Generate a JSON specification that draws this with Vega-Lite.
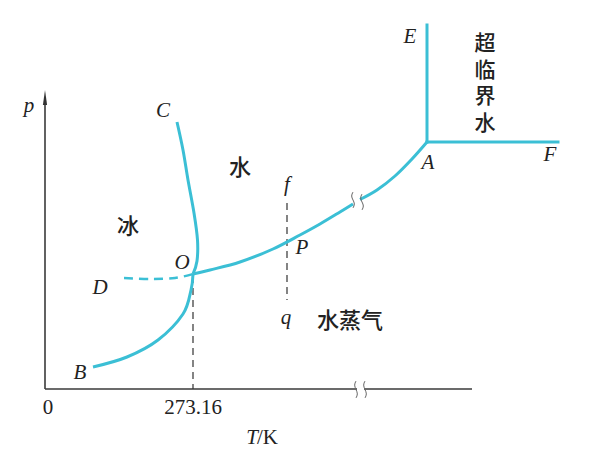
{
  "$schema": "https://vega.github.io/schema/vega-lite/v6.json",
  "width": 589,
  "height": 463,
  "padding": 0,
  "autosize": {"type": "none"},
  "background": "white",
  "config": {"view": {"stroke": null}},
  "datasets": {
    "curves": [
      {"id": "OC", "i": 0, "x": 177, "y": 122},
      {"id": "OC", "i": 1, "x": 183, "y": 150},
      {"id": "OC", "i": 2, "x": 188, "y": 180},
      {"id": "OC", "i": 3, "x": 194, "y": 213},
      {"id": "OC", "i": 4, "x": 197.5, "y": 240},
      {"id": "OC", "i": 5, "x": 197, "y": 261},
      {"id": "OC", "i": 6, "x": 193, "y": 274},
      {"id": "OB", "i": 0, "x": 193, "y": 274},
      {"id": "OB", "i": 1, "x": 191, "y": 290},
      {"id": "OB", "i": 2, "x": 183, "y": 314},
      {"id": "OB", "i": 3, "x": 158, "y": 340},
      {"id": "OB", "i": 4, "x": 127, "y": 357},
      {"id": "OB", "i": 5, "x": 93, "y": 367},
      {"id": "OA1", "i": 0, "x": 193, "y": 274},
      {"id": "OA1", "i": 1, "x": 210, "y": 270},
      {"id": "OA1", "i": 2, "x": 240, "y": 262},
      {"id": "OA1", "i": 3, "x": 273, "y": 249},
      {"id": "OA1", "i": 4, "x": 300, "y": 235},
      {"id": "OA1", "i": 5, "x": 320, "y": 224},
      {"id": "OA1", "i": 6, "x": 340, "y": 212},
      {"id": "OA1", "i": 7, "x": 353, "y": 204},
      {"id": "OA2", "i": 0, "x": 360, "y": 199.5},
      {"id": "OA2", "i": 1, "x": 377, "y": 190},
      {"id": "OA2", "i": 2, "x": 395, "y": 176},
      {"id": "OA2", "i": 3, "x": 412, "y": 159},
      {"id": "OA2", "i": 4, "x": 427, "y": 142}
    ],
    "dashcurve": [
      {"id": "OD", "i": 0, "x": 124, "y": 278},
      {"id": "OD", "i": 1, "x": 150, "y": 279},
      {"id": "OD", "i": 2, "x": 175, "y": 278},
      {"id": "OD", "i": 3, "x": 193, "y": 274}
    ],
    "squig": [
      {"id": "s1", "i": 0, "x": 353, "y": 192},
      {"id": "s1", "i": 1, "x": 351, "y": 196},
      {"id": "s1", "i": 2, "x": 353, "y": 200},
      {"id": "s1", "i": 3, "x": 355, "y": 204},
      {"id": "s1", "i": 4, "x": 353, "y": 208},
      {"id": "s2", "i": 0, "x": 362, "y": 194},
      {"id": "s2", "i": 1, "x": 360, "y": 198},
      {"id": "s2", "i": 2, "x": 362, "y": 202},
      {"id": "s2", "i": 3, "x": 364, "y": 206},
      {"id": "s2", "i": 4, "x": 362, "y": 210},
      {"id": "s3", "i": 0, "x": 356, "y": 381},
      {"id": "s3", "i": 1, "x": 354, "y": 385},
      {"id": "s3", "i": 2, "x": 356, "y": 389.5},
      {"id": "s3", "i": 3, "x": 358, "y": 394},
      {"id": "s3", "i": 4, "x": 356, "y": 398},
      {"id": "s4", "i": 0, "x": 365, "y": 381},
      {"id": "s4", "i": 1, "x": 363, "y": 385},
      {"id": "s4", "i": 2, "x": 365, "y": 389.5},
      {"id": "s4", "i": 3, "x": 367, "y": 394},
      {"id": "s4", "i": 4, "x": 365, "y": 398}
    ],
    "segs": [
      {"kind": "axis", "x": 45, "y": 389, "x2": 472, "y2": 389},
      {"kind": "axis", "x": 45, "y": 389, "x2": 45, "y2": 100},
      {"kind": "gap", "x": 357, "y": 389, "x2": 364, "y2": 389},
      {"kind": "cyan", "x": 427, "y": 25, "x2": 427, "y2": 142},
      {"kind": "cyan", "x": 427, "y": 142, "x2": 558, "y2": 142},
      {"kind": "dash", "x": 193, "y": 276, "x2": 193, "y2": 389},
      {"kind": "dash", "x": 287, "y": 203, "x2": 287, "y2": 300}
    ],
    "arrow": [{"x": 45, "y": 97.5}],
    "labels": [
      {"kind": "it", "t": "p", "x": 29, "y": 106},
      {"kind": "it", "t": "C", "x": 163, "y": 111},
      {"kind": "it", "t": "O", "x": 182, "y": 263},
      {"kind": "it", "t": "D", "x": 100, "y": 288},
      {"kind": "it", "t": "B", "x": 80, "y": 373},
      {"kind": "it", "t": "P", "x": 302, "y": 248},
      {"kind": "it", "t": "E", "x": 410, "y": 37},
      {"kind": "it", "t": "A", "x": 428, "y": 163},
      {"kind": "it", "t": "F", "x": 550, "y": 155},
      {"kind": "it", "t": "f", "x": 287, "y": 185},
      {"kind": "it", "t": "q", "x": 286, "y": 318},
      {"kind": "it", "t": "T", "x": 252, "y": 438},
      {"kind": "rm", "t": "0", "x": 48, "y": 408},
      {"kind": "rm", "t": "273.16", "x": 193, "y": 408},
      {"kind": "rmL", "t": "/K", "x": 257, "y": 438},
      {"kind": "cjk", "t": "冰", "x": 128, "y": 227},
      {"kind": "cjk", "t": "水", "x": 240, "y": 168},
      {"kind": "cjk", "t": "水蒸气", "x": 350, "y": 321},
      {"kind": "cjkV", "t": "超\n临\n界\n水", "x": 485, "y": 44}
    ]
  },
  "layer": [
    {
      "data": {"name": "segs"},
      "transform": [{"filter": "datum.kind == 'axis'"}],
      "mark": {"type": "rule", "color": "#3a3a3a", "strokeWidth": 1.6},
      "encoding": {
        "x": {"field": "x", "type": "quantitative", "scale": {"domain": [0, 589], "nice": false, "zero": false}, "axis": null},
        "y": {"field": "y", "type": "quantitative", "scale": {"domain": [0, 463], "reverse": true, "nice": false, "zero": false}, "axis": null},
        "x2": {"field": "x2"},
        "y2": {"field": "y2"}
      }
    },
    {
      "data": {"name": "segs"},
      "transform": [{"filter": "datum.kind == 'gap'"}],
      "mark": {"type": "rule", "color": "white", "strokeWidth": 3},
      "encoding": {
        "x": {"field": "x", "type": "quantitative", "axis": null},
        "y": {"field": "y", "type": "quantitative", "axis": null},
        "x2": {"field": "x2"},
        "y2": {"field": "y2"}
      }
    },
    {
      "data": {"name": "segs"},
      "transform": [{"filter": "datum.kind == 'dash'"}],
      "mark": {"type": "rule", "color": "#333333", "strokeWidth": 1.2, "strokeDash": [7, 5]},
      "encoding": {
        "x": {"field": "x", "type": "quantitative", "axis": null},
        "y": {"field": "y", "type": "quantitative", "axis": null},
        "x2": {"field": "x2"},
        "y2": {"field": "y2"}
      }
    },
    {
      "data": {"name": "segs"},
      "transform": [{"filter": "datum.kind == 'cyan'"}],
      "mark": {"type": "rule", "color": "#3bbfd5", "strokeWidth": 3, "strokeCap": "square"},
      "encoding": {
        "x": {"field": "x", "type": "quantitative", "axis": null},
        "y": {"field": "y", "type": "quantitative", "axis": null},
        "x2": {"field": "x2"},
        "y2": {"field": "y2"}
      }
    },
    {
      "data": {"name": "curves"},
      "mark": {"type": "line", "color": "#3bbfd5", "strokeWidth": 3, "interpolate": "cardinal"},
      "encoding": {
        "x": {"field": "x", "type": "quantitative", "axis": null},
        "y": {"field": "y", "type": "quantitative", "axis": null},
        "detail": {"field": "id"},
        "order": {"field": "i", "type": "quantitative"}
      }
    },
    {
      "data": {"name": "dashcurve"},
      "mark": {"type": "line", "color": "#3bbfd5", "strokeWidth": 2.5, "interpolate": "cardinal", "strokeDash": [9, 6]},
      "encoding": {
        "x": {"field": "x", "type": "quantitative", "axis": null},
        "y": {"field": "y", "type": "quantitative", "axis": null},
        "detail": {"field": "id"},
        "order": {"field": "i", "type": "quantitative"}
      }
    },
    {
      "data": {"name": "squig"},
      "mark": {"type": "line", "color": "#666666", "strokeWidth": 1, "interpolate": "basis"},
      "encoding": {
        "x": {"field": "x", "type": "quantitative", "axis": null},
        "y": {"field": "y", "type": "quantitative", "axis": null},
        "detail": {"field": "id"},
        "order": {"field": "i", "type": "quantitative"}
      }
    },
    {
      "data": {"name": "arrow"},
      "mark": {"type": "point", "shape": "M0,-1L0.28,1L-0.28,1Z", "size": 225, "filled": true, "color": "#333333", "opacity": 1},
      "encoding": {
        "x": {"field": "x", "type": "quantitative", "axis": null},
        "y": {"field": "y", "type": "quantitative", "axis": null}
      }
    },
    {
      "data": {"name": "labels"},
      "transform": [{"filter": "datum.kind == 'it'"}],
      "mark": {"type": "text", "font": "Liberation Serif", "fontStyle": "italic", "fontSize": 21, "color": "#222222", "align": "center", "baseline": "middle"},
      "encoding": {
        "x": {"field": "x", "type": "quantitative", "axis": null},
        "y": {"field": "y", "type": "quantitative", "axis": null},
        "text": {"field": "t"}
      }
    },
    {
      "data": {"name": "labels"},
      "transform": [{"filter": "datum.kind == 'rm'"}],
      "mark": {"type": "text", "font": "Liberation Serif", "fontSize": 21, "color": "#222222", "align": "center", "baseline": "middle"},
      "encoding": {
        "x": {"field": "x", "type": "quantitative", "axis": null},
        "y": {"field": "y", "type": "quantitative", "axis": null},
        "text": {"field": "t"}
      }
    },
    {
      "data": {"name": "labels"},
      "transform": [{"filter": "datum.kind == 'rmL'"}],
      "mark": {"type": "text", "font": "Liberation Serif", "fontSize": 21, "color": "#222222", "align": "left", "baseline": "middle"},
      "encoding": {
        "x": {"field": "x", "type": "quantitative", "axis": null},
        "y": {"field": "y", "type": "quantitative", "axis": null},
        "text": {"field": "t"}
      }
    },
    {
      "data": {"name": "labels"},
      "transform": [{"filter": "datum.kind == 'cjk'"}],
      "mark": {"type": "text", "font": "Noto Sans CJK SC", "fontSize": 22, "fontWeight": 500, "color": "#222222", "align": "center", "baseline": "middle"},
      "encoding": {
        "x": {"field": "x", "type": "quantitative", "axis": null},
        "y": {"field": "y", "type": "quantitative", "axis": null},
        "text": {"field": "t"}
      }
    },
    {
      "data": {"name": "labels"},
      "transform": [{"filter": "datum.kind == 'cjkV'"}],
      "mark": {"type": "text", "font": "Noto Sans CJK SC", "fontSize": 21, "fontWeight": 500, "color": "#222222", "align": "center", "baseline": "middle", "lineBreak": "\n", "lineHeight": 26.5},
      "encoding": {
        "x": {"field": "x", "type": "quantitative", "axis": null},
        "y": {"field": "y", "type": "quantitative", "axis": null},
        "text": {"field": "t"}
      }
    }
  ]
}
